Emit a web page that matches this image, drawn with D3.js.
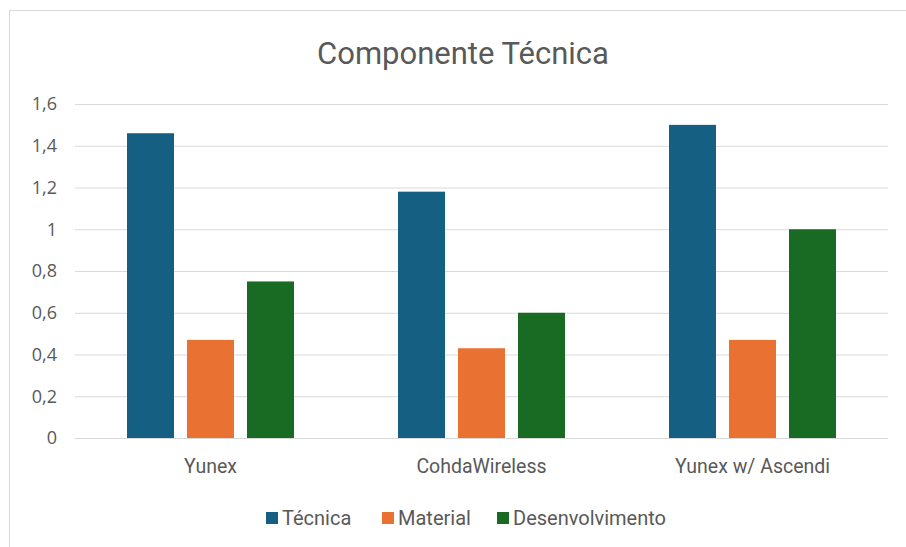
<!DOCTYPE html>
<html><head><meta charset="utf-8">
<script src="https://cdn.jsdelivr.net/npm/d3@7"></script>
<style>html,body{margin:0;padding:0;background:#fff;}svg{display:block;}</style>
</head><body>
<svg id="c" width="906" height="547"></svg>
<script>
const categories = ["Yunex", "CohdaWireless", "Yunex w/ Ascendi"];
const seriesNames = ["Técnica", "Material", "Desenvolvimento"];
const tecnica = [1.46, 1.18, 1.5];
const material = [0.47, 0.43, 0.47];
const desenvolvimento = [0.75, 0.6, 1.0];
const yTicks = [0, 0.2, 0.4, 0.6, 0.8, 1, 1.2, 1.4, 1.6];
const colors = ["#156082", "#E97132", "#196B24"];
const seriesValues = [tecnica, material, desenvolvimento];

(function () {
const svg = d3.select("#c");
svg.append("rect").attr("x", 9.5).attr("y", 10.5).attr("width", 1000).attr("height", 1000)
  .attr("fill", "#fff").attr("stroke", "#d9d9d9");

const pLeft = 75, pRight = 888, pTop = 104, pBottom = 438;
const groupW = 167;
const x0 = d3.scaleBand().domain(categories).range([pLeft, pRight]).paddingInner(0).paddingOuter(0);
const y = d3.scaleLinear().domain([0, 1.6]).range([pBottom, pTop]);
const x1 = d3.scaleBand().domain(seriesNames).range([0, groupW]).paddingInner(0.2167).paddingOuter(0);

const fmt = d => String(d).replace(".", ",");

const yAxis = d3.axisLeft(y).tickValues(yTicks).tickSize(-(pRight - pLeft)).tickFormat(fmt).tickPadding(18);
const ga = svg.append("g").attr("transform", `translate(${pLeft},0)`).call(yAxis);
ga.select(".domain").remove();
ga.selectAll(".tick line").attr("stroke", "#d9d9d9").attr("stroke-width", 1);
ga.selectAll(".tick text").attr("fill", "#595959").attr("font-size", "18px")
  .attr("font-family", "'Open Sans', Roboto, sans-serif").attr("text-anchor", "end").attr("dx", "0");

const groups = svg.append("g").selectAll("g").data(categories).join("g")
  .attr("transform", d => `translate(${x0(d) + x0.bandwidth() / 2 - groupW / 2},0)`);
groups.selectAll("rect").data((d, i) => seriesNames.map((s, j) => ({ s, v: seriesValues[j][i], j })))
  .join("rect")
  .attr("x", d => x1(d.s))
  .attr("y", d => y(d.v))
  .attr("width", x1.bandwidth())
  .attr("height", d => y(0) - y(d.v))
  .attr("fill", d => colors[d.j]);

const xAxis = d3.axisBottom(x0).tickSize(0).tickPadding(21);
const gx = svg.append("g").attr("transform", `translate(0,${pBottom})`).call(xAxis);
gx.select(".domain").attr("stroke", "#d9d9d9").attr("d", `M${pLeft},0.5H${pRight}`);
gx.selectAll(".tick text").attr("fill", "#595959").attr("font-size", "19.5px")
  .attr("font-family", "Roboto, sans-serif");

svg.append("text").attr("x", 463).attr("y", 64).attr("text-anchor", "middle")
  .attr("fill", "#595959").attr("font-size", "31px")
  .attr("font-family", "Roboto, sans-serif")
  .text("Componente Técnica");

const legendX = [266, 382, 497];
const lg = svg.append("g").selectAll("g").data(seriesNames).join("g")
  .attr("transform", (d, i) => `translate(${legendX[i]},512)`);
lg.append("rect").attr("width", 12).attr("height", 12).attr("fill", (d, i) => colors[i]);
lg.append("text").attr("x", 16).attr("y", 12.5).attr("fill", "#595959").attr("font-size", "20px")
  .attr("font-family", "Roboto, sans-serif").text(d => d);
})();
</script>
</body></html>
